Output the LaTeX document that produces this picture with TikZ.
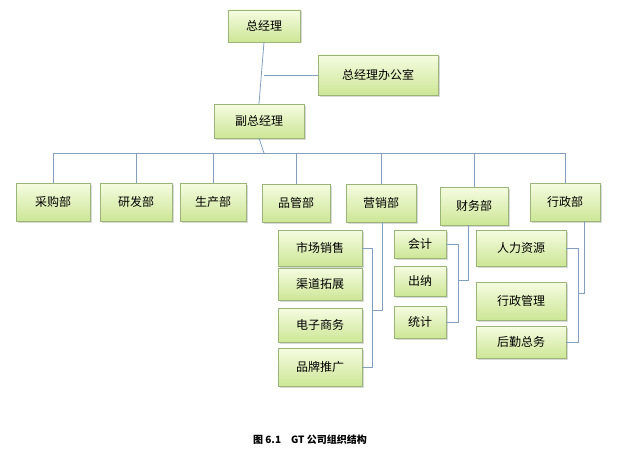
\documentclass[tikz,border=0pt]{standalone}
\usepackage{fontspec}
\setmainfont{Noto Sans CJK SC}
\usetikzlibrary{positioning,shadows}
\definecolor{boxline}{RGB}{155,180,120}
\definecolor{boxtop}{RGB}{245,252,225}
\definecolor{boxbottom}{RGB}{205,230,150}
\definecolor{linkblue}{RGB}{130,160,190}

\begin{document}
\begin{tikzpicture}[x=1pt, y=-1pt,
    every node/.style={align=center, font=\fontsize{12}{14}\selectfont},
    unit/.style={draw=boxline, top color=boxtop, bottom color=boxbottom, drop shadow={opacity=0.3, shadow xshift=1.5pt, shadow yshift=-1.5pt}, inner sep=0pt},
    link/.style={draw=linkblue, line width=0.8pt}]

        \useasboundingbox (0,0) rectangle (621,460);

        % Top levels
        \node[unit, minimum width=72, minimum height=32] (ceo) at (264,26) {总经理};
        \node[unit, minimum width=120, minimum height=40] (office) at (378,75) {总经理办公室};
        \node[unit, minimum width=90, minimum height=34] (vp) at (259,121) {副总经理};

        % Departments
        \node[unit, minimum width=74, minimum height=38] (buy) at (53,202) {采购部};
        \node[unit, minimum width=72, minimum height=38] (rnd) at (136,202) {研发部};
        \node[unit, minimum width=66, minimum height=38] (prod) at (213,202) {生产部};
        \node[unit, minimum width=68, minimum height=38] (qa) at (296,203) {品管部};
        \node[unit, minimum width=70, minimum height=38] (sales) at (381,203) {营销部};
        \node[unit, minimum width=68, minimum height=38] (fin) at (474,206) {财务部};
        \node[unit, minimum width=70, minimum height=38] (adm) at (565,202) {行政部};

        % Marketing
        \node[unit, minimum width=84, minimum height=36] (mkt) at (320,248) {市场销售};
        \node[unit, minimum width=84, minimum height=32] (chan) at (320,284) {渠道拓展};
        \node[unit, minimum width=84, minimum height=34] (ecom) at (320,325) {电子商务};
        \node[unit, minimum width=84, minimum height=38] (brand) at (320,367) {品牌推广};

        % Finance
        \node[unit, minimum width=52, minimum height=28] (acct) at (420,244) {会计};
        \node[unit, minimum width=52, minimum height=30] (cash) at (420,281) {出纳};
        \node[unit, minimum width=52, minimum height=32] (stat) at (420,322) {统计};

        % Administration
        \node[unit, minimum width=90, minimum height=36] (hr) at (521,248) {人力资源};
        \node[unit, minimum width=90, minimum height=38] (mgmt) at (521,301) {行政管理};
        \node[unit, minimum width=90, minimum height=32] (logi) at (521,342) {后勤总务};

        % Links
        \coordinate (bus) at (264,153);
        \coordinate (salesjoin) at (382,310);
        \coordinate (finjoin) at (468,280);
        \coordinate (admjoin) at (584,293);
        \draw[link] (ceo.south) -- (vp.north);
        \draw[link] (ceo.south |- office.west) -- (office.west);
        \draw[link] (vp.south) -- (bus);
        \draw[link] (buy.north |- bus) -- (adm.north |- bus);
        \foreach \d in {buy,rnd,prod,qa,sales,fin,adm}
            \draw[link] (\d.north |- bus) -- (\d.north);

        \draw[link] (mkt.east) -| ([xshift=-10pt]salesjoin) -- (salesjoin) -- (salesjoin |- sales.south);
        \draw[link] (brand.east) -| ([xshift=-10pt]salesjoin);
        \draw[link] (acct.east) -| ([xshift=-10pt]finjoin) -- (finjoin) -- (finjoin |- fin.south);
        \draw[link] (stat.east) -| ([xshift=-10pt]finjoin);
        \draw[link] (hr.east) -| ([xshift=-6pt]admjoin) -- (admjoin) -- (admjoin |- adm.south);
        \draw[link] (logi.east) -| ([xshift=-6pt]admjoin);

        % Caption
        \node[font=\fontsize{10}{12}\selectfont\bfseries] (caption) at (310,440) {图 6.1\quad GT 公司组织结构};

    \end{tikzpicture}
\end{document}
